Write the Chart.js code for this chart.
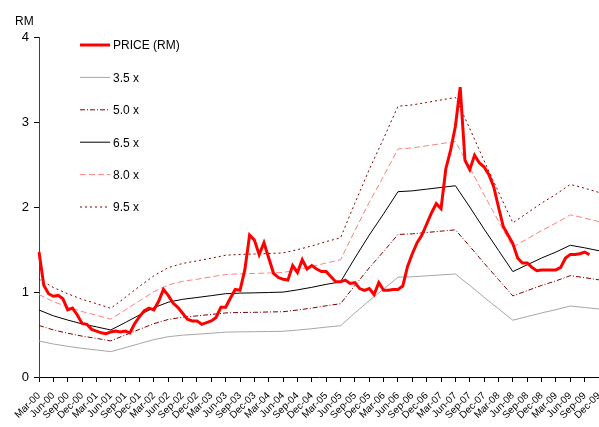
<!DOCTYPE html>
<html>
<head>
<meta charset="utf-8">
<script src="https://cdn.jsdelivr.net/npm/chart.js@4"></script>
<style>
  html, body { margin: 0; padding: 0; background: #fff; }
  #wrap { width: 599px; height: 427px; position: relative; }
</style>
</head>
<body>
<div id="wrap"><canvas id="chart" width="599" height="427"></canvas></div>
<script>
// month labels Mar-00 .. Dec-09 (x axis shows every 3rd)
const monthNames = ['Jan', 'Feb', 'Mar', 'Apr', 'May', 'Jun', 'Jul', 'Aug', 'Sep', 'Oct', 'Nov', 'Dec'];
const years = ['00', '01', '02', '03', '04', '05', '06', '07', '08', '09'];
const labels = [];
years.forEach(y => monthNames.forEach((m, k) => { if (y !== '00' || k >= 2) labels.push(m + '-' + y); }));

// monthly share price, RM (Mar-00 .. Oct-09)
const price = [
  1.47, 1.08, 0.98, 0.95, 0.96, 0.92, 0.79, 0.81, 0.73, 0.63,
  0.62, 0.56, 0.54, 0.52, 0.51, 0.53, 0.54, 0.53, 0.54, 0.52,
  0.63, 0.71, 0.78, 0.81, 0.79, 0.89, 1.03, 0.96, 0.87, 0.82,
  0.75, 0.68, 0.66, 0.66, 0.62, 0.64, 0.66, 0.70, 0.82, 0.82,
  0.93, 1.03, 1.02, 1.26, 1.67, 1.61, 1.44, 1.58, 1.40, 1.22,
  1.17, 1.15, 1.14, 1.31, 1.23, 1.38, 1.27, 1.31, 1.27, 1.24,
  1.24, 1.18, 1.12, 1.12, 1.14, 1.10, 1.11, 1.04, 1.02, 1.04,
  0.97, 1.11, 1.02, 1.02, 1.03, 1.03, 1.07, 1.30, 1.45, 1.58,
  1.67, 1.80, 1.93, 2.04, 1.98, 2.45, 2.67, 2.95, 3.41, 2.55,
  2.44, 2.61, 2.52, 2.47, 2.38, 2.24, 2.00, 1.77, 1.67, 1.57,
  1.40, 1.34, 1.34, 1.29, 1.25, 1.26, 1.26, 1.26, 1.26, 1.29,
  1.40, 1.44, 1.44, 1.45, 1.47, 1.44
];

// quarterly EPS (RM), one value every 3 months from Mar-00
const eps = [
  0.1212, 0.1108, 0.1031, 0.0962, 0.0908, 0.0851, 0.0985, 0.1123, 0.1254, 0.1354,
  0.1406, 0.1438, 0.1472, 0.1508, 0.1518, 0.1523, 0.1529, 0.1537, 0.1577, 0.1623,
  0.1677, 0.1723, 0.2154, 0.2569, 0.2954, 0.3354, 0.3369, 0.3400, 0.3431, 0.3462,
  0.3077, 0.2677, 0.2292, 0.1908, 0.2031, 0.2154, 0.2262, 0.2385, 0.2338, 0.2285
];

// PER bands
const multiples = [3.5, 5.0, 6.5, 8.0, 9.5];
const bandLabels = ['3.5 x', '5.0 x', '6.5 x', '8.0 x', '9.5 x'];
const bandColors = ['#a6a6a6', '#800000', '#000000', '#ff8080', '#800000'];
const bandDashes = [[], [5, 2, 1, 2], [], [6, 3], [2, 3]];

const yTicks = [0, 1, 2, 3, 4];
const FONT = "'Liberation Sans', Arial, sans-serif";

function bandSeries(m) {
  return labels.map((_, i) => (i % 3 === 0 && eps[i / 3] != null) ? +(eps[i / 3] * m).toFixed(3) : null);
}

const datasets = [{
  label: 'PRICE (RM)', data: price, borderColor: '#ff0000', borderWidth: 3,
  pointRadius: 0, tension: 0, fill: false
}];
multiples.forEach((m, k) => datasets.push({
  label: bandLabels[k], data: bandSeries(m), borderColor: bandColors[k], borderWidth: 1,
  borderDash: bandDashes[k], pointRadius: 0, tension: 0, spanGaps: true, fill: false
}));

// legend drawn inside plot, stacked like the original
const insideLegend = {
  id: 'insideLegend',
  afterDraw(chart) {
    const c = chart.ctx;
    c.save();
    c.font = '12px ' + FONT;
    c.textBaseline = 'middle';
    chart.data.datasets.forEach((ds, i) => {
      const y = 45 + i * 32.4;
      c.beginPath();
      c.strokeStyle = ds.borderColor;
      c.lineWidth = ds.borderWidth;
      c.setLineDash(ds.borderDash || []);
      c.moveTo(80, y); c.lineTo(110, y);
      c.stroke();
      c.setLineDash([]);
      c.fillStyle = '#000';
      c.fillText(ds.label, 113, y + 1);
    });
    c.restore();
  }
};

new Chart(document.getElementById('chart'), {
  type: 'line',
  data: { labels, datasets },
  plugins: [insideLegend],
  options: {
    responsive: false,
    animation: false,
    layout: { padding: { left: 15, right: 0, top: 0, bottom: 0 } },
    plugins: {
      legend: { display: false },
      tooltip: { enabled: false },
      title: {
        display: true, text: 'RM', align: 'start', color: '#000',
        font: { family: FONT, size: 12, weight: 'normal' },
        padding: { top: 14, bottom: 8.6 }
      }
    },
    scales: {
      x: {
        offset: false,
        grid: {
          drawOnChartArea: false, drawTicks: true, tickLength: 5,
          color: ctx => (ctx.index % 3 === 0 ? '#000' : 'rgba(0,0,0,0)')
        },
        border: { display: true, color: '#000', width: 1 },
        ticks: {
          autoSkip: false, minRotation: 45, maxRotation: 45, padding: 8,
          color: '#000', font: { family: FONT, size: 10 },
          callback: (v, i) => (i % 3 === 0 ? labels[i] : '')
        },
        afterFit: s => { s.height = 50; s.paddingRight = 0; }
      },
      y: {
        min: 0, max: 4,
        afterBuildTicks: s => { s.ticks = yTicks.map(v => ({ value: v })); },
        grid: { drawOnChartArea: false, drawTicks: true, tickLength: 5, color: '#000' },
        border: { display: true, color: '#404040', width: 1 },
        ticks: { color: '#000', padding: 5, font: { family: FONT, size: 13 } },
        afterFit: s => { s.width = 24; }
      }
    }
  }
});
</script>
</body>
</html>
